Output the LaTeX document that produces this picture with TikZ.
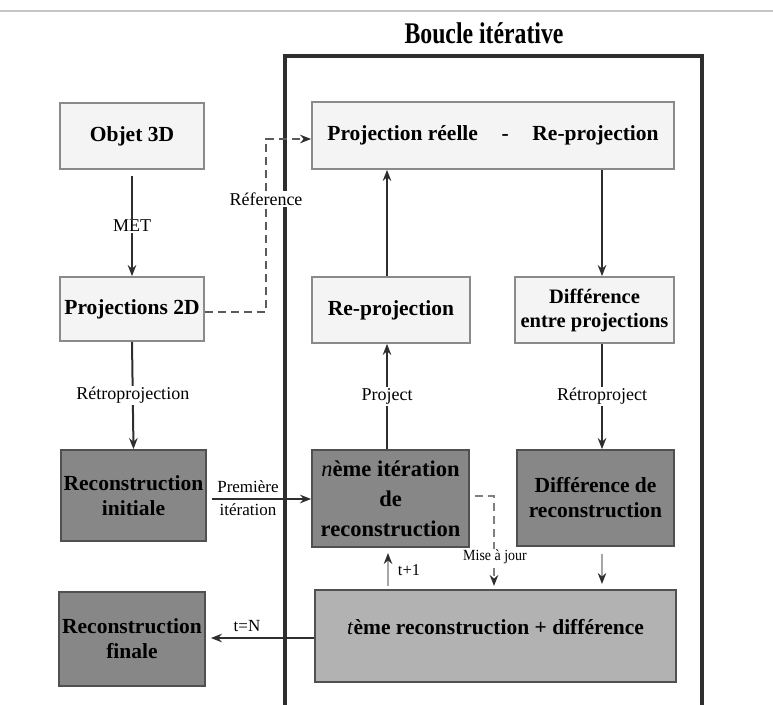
\documentclass[tikz,border=0pt]{standalone}
\usepackage{fontspec}
\setmainfont{Liberation Serif}
\usetikzlibrary{arrows.meta,calc}
\definecolor{lightfill}{HTML}{F4F4F4}
\definecolor{lightdraw}{HTML}{8A8A8A}
\definecolor{darkfill}{HTML}{878787}
\definecolor{darkdraw}{HTML}{505050}
\definecolor{midfill}{HTML}{B2B2B2}
\definecolor{linecol}{HTML}{2E2E2E}
\definecolor{dashcol}{HTML}{5A5A5A}
\tikzset{
  box/.style={draw=lightdraw, line width=1.8pt, fill=lightfill, align=center, inner sep=0pt,
    font=\fontsize{21.5}{25}\selectfont\bfseries},
  darkbox/.style={box, draw=darkdraw, fill=darkfill},
  midbox/.style={box, draw=darkdraw, fill=midfill},
  arr/.style={draw=linecol, line width=2pt, -{Stealth[length=11pt,width=8.5pt]}},
  garr/.style={draw=gray!70, line width=1.8pt, -{Stealth[length=11pt,width=8.5pt,color=linecol,fill=linecol]}},
  darr/.style={draw=dashcol, line width=2.2pt, dash pattern=on 8pt off 5pt, -{Stealth[length=11pt,width=8.5pt,color=linecol,fill=linecol]}},
  lab/.style={fill=white, inner sep=1.5pt, font=\fontsize{18}{20}\selectfont},
  slab/.style={fill=white, inner sep=1pt, font=\fontsize{15}{17}\selectfont},
}
\begin{document}
\begin{tikzpicture}[x=1pt,y=-1pt]
\useasboundingbox (0,0) rectangle (773,704);
\draw[gray!45, line width=1.2pt] (0,11) -- (773,11);
\node[font=\fontsize{25}{27}\selectfont\bfseries] (title) at (484,33) {\scalebox{0.95}[1.2]{Boucle itérative}};
\begin{scope}
\clip (0,0) rectangle (773,704);
\draw[linecol, line width=3.2pt] (285,712) -- (285,56) -- (702,56) -- (702,712);
\end{scope}
% boxes
\node[box, minimum width=144, minimum height=66] (obj) at (132,136) {Objet 3D};
\node[box, minimum width=144, minimum height=64] (p2d) at (132,309) {Projections 2D};
\node[darkbox, minimum width=145, minimum height=91] (rinit) at (133.5,495.5) {Reconstruction\\initiale};
\node[darkbox, minimum width=146, minimum height=94] (rfin) at (132,639) {Reconstruction\\finale};
\node[box, minimum width=362, minimum height=67] (preel) at (493,135.5) {\raisebox{3pt}{Projection réelle\hspace{1.1em}-\hspace{1.1em}Re-projection}};
\node[box, minimum width=158, minimum height=66] (reproj) at (391,310) {Re-projection};
\node[box, minimum width=159, minimum height=66, font=\fontsize{20.5}{24}\selectfont\bfseries] (dproj) at (594.5,310) {Différence\\entre projections};
\node[darkbox, minimum width=157, minimum height=97, font=\fontsize{22.5}{30}\selectfont\bfseries] (nth) at (390.5,498.5) {\textit{\mdseries n}ème itération\\de\\reconstruction};
\node[darkbox, minimum width=157, minimum height=96] (drec) at (595.5,498) {Différence de\\reconstruction};
\node[midbox, minimum width=361, minimum height=92] (teme) at (495.5,636) {\raisebox{18pt}{\textit{\mdseries t}ème reconstruction + différence}};
% connectors
\draw[arr] ([yshift=-6pt]obj.south) -- (p2d.north) node[lab, pos=0.5] (lmet) {MET};
\draw[arr] (p2d.south) -- (rinit.north) node[lab, pos=0.5] (lretro) {Rétroprojection};
\coordinate (dA) at (266,312);
\coordinate (dB) at (266,139);
\draw[darr] (p2d.east |- dA) -- (dA) -- (dB) -- (preel.west |- dB);
\node[lab] (lref) at (266,199) {Réference};
\draw[arr] ([xshift=-4pt]reproj.north) -- ([xshift=-4pt]reproj.north |- preel.south);
\draw[arr] ([xshift=7.5pt]dproj.north |- preel.south) -- ([xshift=7.5pt]dproj.north);
\draw[arr] ([xshift=-3.5pt]nth.north) -- ([xshift=-3.5pt]nth.north |- reproj.south) node[lab, pos=0.5] (lproj) {Project};
\draw[arr] ([xshift=7.5pt]dproj.south) -- ([xshift=6.5pt]drec.north) node[lab, pos=0.5] (lrp) {Rétroproject};
\draw[arr] ([xshift=5pt]rinit.east |- 0,499) -- (nth.west |- 0,499);
\node[slab, font=\fontsize{17}{19}\selectfont] (lprem) at (248,487) {Première};
\node[slab, font=\fontsize{17}{19}\selectfont] (liter) at (248,510) {itération};
\coordinate (mA) at (494,496);
\draw[darr, draw=gray] ([xshift=5pt]nth.east |- mA) -- (mA) -- (494,586);
\node[slab, font=\fontsize{15.5}{17}\selectfont] (lmise) at (495,557) {\scalebox{0.9}[1]{Mise à jour}};
\draw[garr] (388,586) -- (388,553);
\node[font=\fontsize{16.5}{18}\selectfont, inner sep=1pt] (ltp) at (409,570) {t+1};
\draw[garr, line width=1.3pt] ([xshift=6.5pt,yshift=-7pt]drec.south) -- (602,584);
\draw[arr] (teme.west |- 0,638) -- ([xshift=5pt]rfin.east |- 0,638);
\node[font=\fontsize{17}{19}\selectfont, inner sep=1pt] (ltn) at (247,626) {t=N};
\end{tikzpicture}
\end{document}
